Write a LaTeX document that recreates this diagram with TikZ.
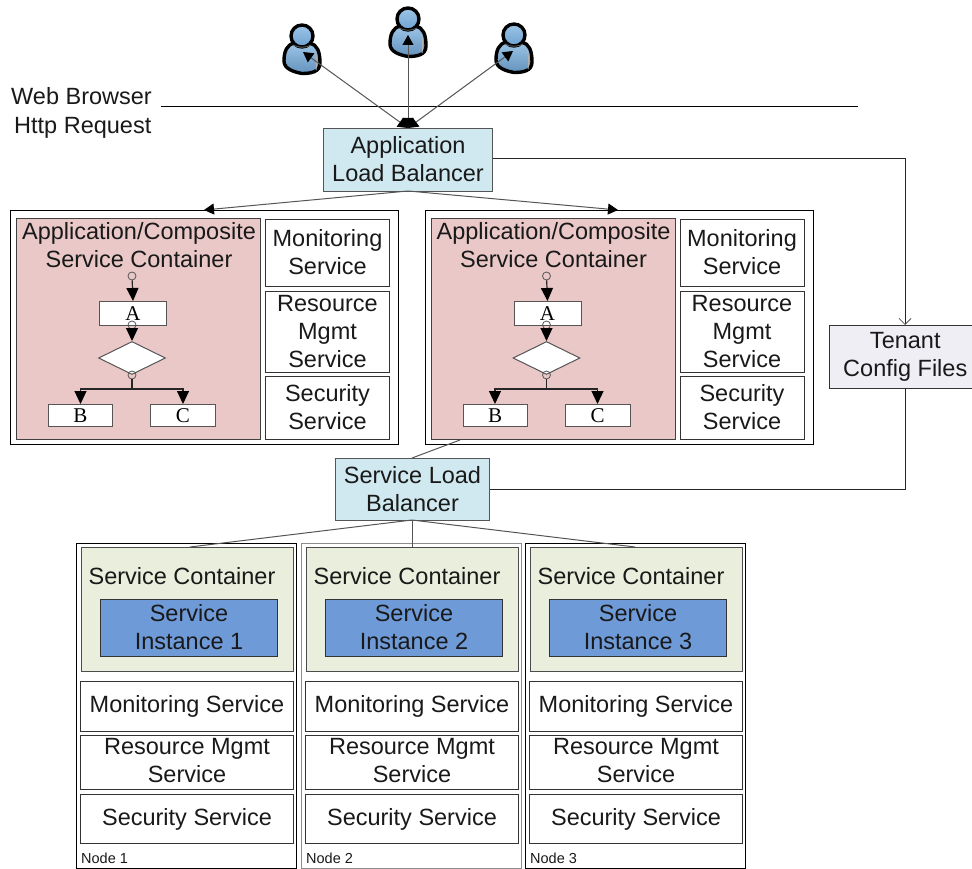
\documentclass[tikz,border=0pt]{standalone}
\usepackage{fontspec}
\setmainfont{Liberation Sans}
\newfontfamily\flowfont{Liberation Serif}
\usetikzlibrary{arrows.meta,shapes.geometric,calc}
\definecolor{lbblue}{HTML}{D0E8EF}
\definecolor{pinkc}{HTML}{EAC8C8}
\definecolor{greenc}{HTML}{E9EEDD}
\definecolor{instc}{HTML}{6F9AD8}
\definecolor{tenantc}{HTML}{F0EEF5}
\definecolor{lineg}{HTML}{555555}
\definecolor{userc}{HTML}{6FA3D2}
\definecolor{userl}{HTML}{9CC4E6}
\newcommand{\upby}[1]{\par\vspace*{#1pt}}
\tikzset{
 x=1pt,y=-1pt,
 txt/.style={font=\fontsize{23.5}{28}\selectfont,text=black!90,align=center,inner sep=0pt},
 rect/.style={draw=black!80,line width=1pt,txt},
 lb/.style={rect,fill=lbblue,draw=lineg},
 conn/.style={draw=lineg,line width=1pt},
 arr/.style={conn,-{Triangle[length=10pt,width=11pt,color=black]}},
 blackline/.style={draw=black!85,line width=1pt},
 barb/.style={blackline,-{Straight Barb[length=6pt,width=12pt,color=lineg,line width=.8pt]}},
 flowbox/.style={draw=lineg,line width=1pt,fill=white,inner sep=0pt,font=\fontsize{21}{21}\selectfont\flowfont},
 dot/.style={circle,draw=lineg,line width=.8pt,fill=none,minimum size=8pt,inner sep=0pt},
 farr/.style={draw=black!85,line width=1.2pt,-{Triangle[length=13pt,width=12pt,color=black]}},
 small/.style={font=\fontsize{14.5}{16}\selectfont,inner sep=0pt,anchor=west,text=black!90},
 both/.style={conn,{Triangle[length=10pt,width=11pt,color=black]}-{Triangle[length=10pt,width=11pt,color=black]}},
}
% box from corner to corner: name, x1,y1,x2,y2, style, text
\newcommand{\bx}[7]{\node[#6,minimum width=((#4)-(#2))*1pt,minimum height=((#5)-(#3))*1pt,anchor=north west] (#1) at (#2,#3) {#7};}
\newcommand{\person}[3]{%
 \begin{scope}[shift={(#2,#3)}]
  \path[top color=userl,bottom color=userc!90!black,draw=black,line width=3.4pt,line join=round]
   (-8,-4) .. controls (-15,-2) and (-18,4) .. (-18,14)
   .. controls (-18,22) and (-8,25) .. (0,26.5)
   .. controls (9,26.5) and (18,25) .. (18,16)
   .. controls (18,4) and (15,-2) .. (8,-4) -- cycle;
  \node[circle,top color=userl,bottom color=userc,draw=black,line width=3.4pt,minimum size=22pt,inner sep=0pt] (#1) at (0,-11) {};
  \draw[white!70!black,line width=1pt] (13,4) .. controls (15,10) and (15,17) .. (14,23);
  \draw[black!60,line width=.8pt] (-9,-2) .. controls (-4,1) and (4,1) .. (9,-2);
 \end{scope}}
\newcommand{\appcontainer}[2]{% index, xshift
 \bx{outer#1}{#2+10}{210}{#2+398}{444}{draw=black,line width=1pt}{}
 \bx{pink#1}{#2+16}{218}{#2+260}{439}{draw=black!75,line width=1pt,fill=pinkc}{}
 \node[txt] (pt#1) at (#2+139,245) {Application/Composite\\Service Container};
 \bx{mon#1}{#2+265}{219}{#2+389}{286}{rect}{Monitoring\\Service\upby{2}}
 \bx{res#1}{#2+265}{291}{#2+389}{372}{rect}{Resource\\Mgmt\\Service}
 \bx{sec#1}{#2+265}{376}{#2+389}{439}{rect}{Security\\Service\upby{2}}
 \node[dot] (d1#1) at (#2+132,276) {};
 \bx{A#1}{#2+99}{301}{#2+166}{325}{flowbox}{A}
 \node[diamond,draw=lineg,line width=1pt,fill=white,minimum width=67pt,minimum height=33pt,inner sep=0pt,aspect=2] (dm#1) at (#2+132,358) {};
 \node[dot] (d2#1) at (#2+132,325) {};
 \node[dot] (d3#1) at (#2+132,375) {};
 \bx{B#1}{#2+48}{404}{#2+112}{426}{flowbox}{B}
 \bx{C#1}{#2+150}{404}{#2+215}{426}{flowbox}{C}
 \coordinate (j#1) at (#2+132,389);
 \draw[farr] (d1#1) -- (A#1.north);
 \draw[farr] (d2#1) -- (dm#1.north);
 \draw[draw=black!85,line width=1.2pt] (d3#1) -- (j#1);
 \draw[farr] (j#1) -| (B#1.north);
 \draw[farr] (j#1) -| (C#1.north);
}
\newcommand{\svcnode}[4]{% index, xshift, border colour, instance
 \bx{node#1}{#2+76}{543}{#2+296}{868}{draw=#3,line width=1.2pt}{}
 \bx{cont#1}{#2+81}{547}{#2+293}{671}{draw=black!70,line width=1pt,fill=greenc}{}
 \node[txt] (ct#1) at (#2+182,576) {Service Container};
 \bx{inst#1}{#2+100}{599}{#2+277}{656}{rect,fill=instc}{Service\\Instance #4\upby{2}}
 \bx{m#1}{#2+80}{681}{#2+293}{731}{rect}{Monitoring Service}
 \bx{r#1}{#2+80}{735}{#2+293}{789}{rect}{Resource Mgmt\\Service\upby{4}}
 \bx{s#1}{#2+80}{794}{#2+293}{843}{rect}{Security Service}
 \node[small] (nl#1) at (#2+81,858) {Node #4};
}
\begin{document}
\begin{tikzpicture}
\useasboundingbox (0,0) rectangle (972,869);
\person{u1}{302}{47}
\person{u2}{408}{30}
\person{u3}{514}{46}
\node[txt,anchor=west] (wb) at (11,96) {Web Browser};
\node[txt,anchor=west] (hr) at (14,128) {Http Request};
\coordinate (wl1) at (161,107);
\coordinate (wl2) at (858,107);
\draw[draw=black,line width=1pt] (wl1) -- (wl2);

\bx{alb}{323}{128}{492}{191}{lb}{Application\\Load Balancer\upby{2}}
\bx{slb}{335}{458}{489}{520}{lb}{Service Load\\Balancer}
\bx{tenant}{829}{325}{971.5}{388}{rect,fill=tenantc}{\hspace*{9pt}Tenant\\\hspace*{9pt}Config Files}
\appcontainer{L}{0}
\appcontainer{R}{414.5}
\svcnode{1}{0}{black}{1}
\svcnode{2}{225}{black!45}{2}
\svcnode{3}{449}{black}{3}

\coordinate (altop) at (408,128);
\coordinate (a1) at (303,52);
\coordinate (a2) at (408,35);
\coordinate (a3) at (513,51);
\draw[both] (altop) -- (a1);
\draw[both] (altop) -- (a2);
\draw[both] (altop) -- (a3);

\coordinate (albb) at (408,191);
\coordinate (tl) at (204,210);
\coordinate (tr) at (618,210);
\draw[arr] (albb) -- (tl);
\draw[arr] (albb) -- (tr);
\coordinate (tn) at (905,325);
\coordinate (ts) at (905,388);
\draw[barb] (alb.east |- 0,159) -| (tn);
\draw[blackline] (ts) |- (slb.east |- 0,489);

\coordinate (slbt) at (412,458);
\coordinate (pinkb) at (460,440);
\draw[conn] (slbt) -- (pinkb);
\coordinate (slbb) at (412,520);
\coordinate (n1t) at (190,547);
\coordinate (n2t) at (412,547);
\coordinate (n3t) at (635,547);
\draw[conn] (slbb) -- (n1t);
\draw[conn] (slbb) -- (n2t);
\draw[conn] (slbb) -- (n3t);
\end{tikzpicture}
\end{document}
